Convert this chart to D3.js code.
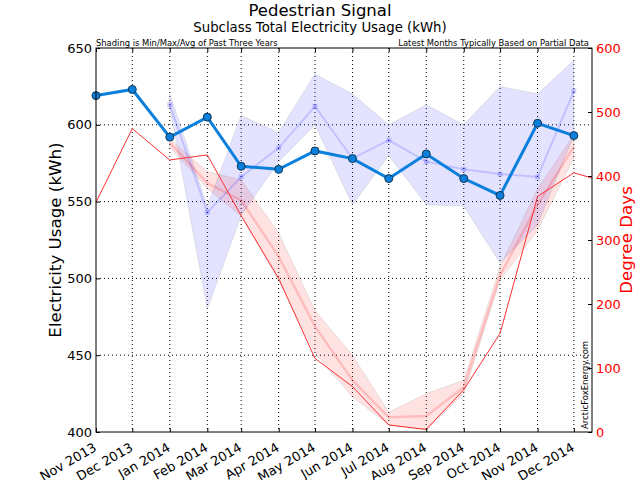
<!DOCTYPE html>
<html>
<head>
<meta charset="utf-8">
<script src="https://cdn.jsdelivr.net/npm/d3@7"></script>
<style>
  body { margin: 0; background: #fff; }
  svg { font-family: "DejaVu Sans", sans-serif; }
  .axis path { display: none; }
  .axis line { stroke: #000; }
</style>
</head>
<body>
<svg id="chart" width="640" height="480"></svg>
<script>
// months shown on the x axis (first of month)
const months = ["2013-11", "2013-12", "2014-01", "2014-02", "2014-03", "2014-04", "2014-05",
  "2014-06", "2014-07", "2014-08", "2014-09", "2014-10", "2014-11", "2014-12"];
// current electricity usage (kWh)
const usage = [619, 623, 592, 605, 573, 571, 583, 578, 565, 581, 565, 554, 601, 593];

// past three years stats, only from Jan 2014
const histMonths = months.slice(2);
const usageAvg = [613, 543, 566, 585, 612, 578, 590, 576, 571, 568, 566, 622];
const usageMin = [612, 480, 541, 576, 600, 548, 580, 548, 547, 510, 535, 593];
const usageMax = [620, 547, 606, 595, 633, 620, 600, 613, 600, 625, 620, 642];

// degree days (last point runs past the plot edge)
const ddMonths = months.concat(["2015-01"]);
const degreeDays = [359, 474, 425, 433, 338, 240, 115, 71, 11, 4, 66, 154, 368, 405, 388];
const ddAvg = [452, 389, 362, 274, 165, 81, 23, 25, 70, 245, 355, 446];
const ddMin = [445, 381, 337, 237, 123, 55, 11, 3, 60, 237, 315, 428];
const ddMax = [458, 407, 394, 311, 190, 120, 31, 60, 81, 258, 380, 464];

const leftTicks = [400, 450, 500, 550, 600, 650];
const rightTicks = [0, 100, 200, 300, 400, 500, 600];

const parse = d3.timeParse("%Y-%m");
const margin = {top: 48, right: 48, bottom: 48, left: 96};
const width = 640 - margin.left - margin.right;
const height = 480 - margin.top - margin.bottom;

const svg = d3.select("#chart");
const g = svg.append("g").attr("transform", `translate(${margin.left},${margin.top})`);

const x = d3.scaleTime()
    .domain([parse("2013-11"), new Date(2014, 11, 16)])
    .range([0, width]);
const y = d3.scaleLinear().domain([400, 650]).range([height, 0]);
const y2 = d3.scaleLinear().domain([0, 600]).range([height, 0]);

g.append("clipPath").attr("id", "clip")
  .append("rect").attr("width", width).attr("height", height);

// grid
const grid = g.append("g").attr("stroke", "#000").attr("stroke-dasharray", "1,3");
grid.selectAll(".gx").data(months.slice(1)).join("line")
    .attr("x1", d => x(parse(d))).attr("x2", d => x(parse(d)))
    .attr("y1", 0).attr("y2", height);
grid.selectAll(".gy").data(leftTicks.slice(1, -1)).join("line")
    .attr("x1", 0).attr("x2", width)
    .attr("y1", d => y(d)).attr("y2", d => y(d));

const plot = g.append("g").attr("clip-path", "url(#clip)");

// usage band
const usageBand = histMonths.map((m, i) => ({date: parse(m), lo: usageMin[i], hi: usageMax[i], avg: usageAvg[i]}));
plot.append("path").datum(usageBand)
    .attr("fill", "blue").attr("fill-opacity", 0.11)
    .attr("stroke", "#888").attr("stroke-opacity", 0.2)
    .attr("d", d3.area().x(d => x(d.date)).y0(d => y(d.lo)).y1(d => y(d.hi)));

// degree days band
const ddBand = histMonths.map((m, i) => ({date: parse(m), lo: ddMin[i], hi: ddMax[i], avg: ddAvg[i]}));
plot.append("path").datum(ddBand)
    .attr("fill", "red").attr("fill-opacity", 0.11)
    .attr("stroke", "#888").attr("stroke-opacity", 0.2)
    .attr("d", d3.area().x(d => x(d.date)).y0(d => y2(d.lo)).y1(d => y2(d.hi)));

// avg lines
plot.append("path").datum(ddBand)
    .attr("fill", "none").attr("stroke", "red").attr("stroke-opacity", 0.17).attr("stroke-width", 2.5)
    .attr("d", d3.line().x(d => x(d.date)).y(d => y2(d.avg)));

plot.append("path").datum(usageBand)
    .attr("fill", "none").attr("stroke", "blue").attr("stroke-opacity", 0.15).attr("stroke-width", 2)
    .attr("d", d3.line().x(d => x(d.date)).y(d => y(d.avg)));
plot.selectAll(".avgpt").data(usageBand).join("rect")
    .attr("x", d => x(d.date) - 2.5).attr("y", d => y(d.avg) - 2.5)
    .attr("width", 5).attr("height", 5)
    .attr("fill", "blue").attr("fill-opacity", 0.18);

// degree days current
const ddData = ddMonths.map((m, i) => ({date: parse(m), v: degreeDays[i]}));
plot.append("path").datum(ddData)
    .attr("fill", "none").attr("stroke", "#ff3030").attr("stroke-width", 1)
    .attr("d", d3.line().x(d => x(d.date)).y(d => y2(d.v)));

// usage current
const usageData = months.map((m, i) => ({date: parse(m), v: usage[i]}));
plot.append("path").datum(usageData)
    .attr("fill", "none").attr("stroke", "#0a7fdc").attr("stroke-width", 3)
    .attr("d", d3.line().x(d => x(d.date)).y(d => y(d.v)));
g.selectAll(".pt").data(usageData).join("circle")
    .attr("cx", d => x(d.date)).attr("cy", d => y(d.v)).attr("r", 4)
    .attr("fill", "#0a7fdc").attr("stroke", "#123552").attr("stroke-width", 1);

// axes
const xTicks = months.map(parse);
g.append("g").attr("class", "axis")
    .attr("transform", `translate(0,${height})`)
    .call(d3.axisBottom(x).tickValues(xTicks).tickSize(-4).tickFormat(d3.timeFormat("%b %Y")))
    .selectAll("text")
      .attr("font-size", 13).attr("font-family", "DejaVu Sans").attr("fill", "#000")
      .attr("text-anchor", "end")
      .attr("x", 0).attr("y", 0).attr("dy", 0)
      .attr("transform", "translate(1,18) rotate(-30)");
g.append("g").attr("class", "axis")
    .call(d3.axisTop(x).tickValues(xTicks).tickSize(-4).tickFormat(""));
g.append("g").attr("class", "axis")
    .call(d3.axisLeft(y).tickValues(leftTicks).tickSize(-4).tickPadding(4))
    .selectAll("text")
      .attr("font-size", 13).attr("font-family", "DejaVu Sans").attr("fill", "#000");
g.append("g").attr("class", "axis")
    .attr("transform", `translate(${width},0)`)
    .call(d3.axisRight(y2).tickValues(rightTicks).tickSize(-4).tickPadding(4))
    .selectAll("text")
      .attr("font-size", 13).attr("font-family", "DejaVu Sans").attr("fill", "red");

// frame
g.append("rect").attr("width", width).attr("height", height)
    .attr("fill", "none").attr("stroke", "#000").attr("stroke-width", 1);

// texts
svg.append("text").attr("x", 320).attr("y", 16).attr("text-anchor", "middle")
    .attr("font-size", 16.5).text("Pedestrian Signal");
svg.append("text").attr("x", 320).attr("y", 32).attr("text-anchor", "middle")
    .attr("font-size", 13.3).text("Subclass Total Electricity Usage (kWh)");
svg.append("text").attr("x", margin.left).attr("y", 46)
    .attr("font-size", 8.4).text("Shading is Min/Max/Avg of Past Three Years");
svg.append("text").attr("x", margin.left + width - 3).attr("y", 46).attr("text-anchor", "end")
    .attr("font-size", 8.4).text("Latest Months Typically Based on Partial Data");
svg.append("text").attr("transform", `translate(61,${margin.top + height / 2}) rotate(-90)`)
    .attr("text-anchor", "middle").attr("font-size", 16.7).text("Electricity Usage (kWh)");
svg.append("text").attr("transform", `translate(632,${margin.top + height / 2}) rotate(-90)`)
    .attr("text-anchor", "middle").attr("font-size", 16.7).attr("fill", "red").text("Degree Days");
svg.append("text").attr("transform", `translate(588,429) rotate(-90)`)
    .attr("font-size", 8.5).text("ArcticFoxEnergy.com");
</script>
</body>
</html>
